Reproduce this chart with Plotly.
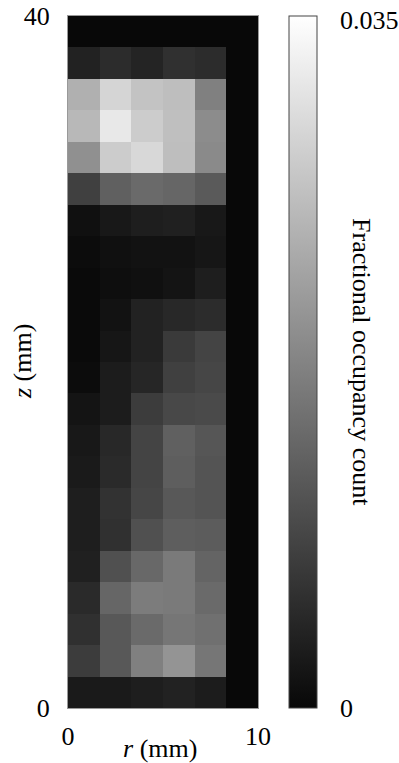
import plotly.graph_objects as go

# Occupancy grid: 6 radial bins (0-10 mm) x 22 axial bins (0-40 mm)
r_edges_mm = [0, 10]
z_edges_mm = [0, 40]
n_r, n_z = 6, 22

# Fractional occupancy per cell; rows listed from z = 0 (bottom) to z = 40 (top),
# columns from r = 0 outward
occupancy = [
    [0.0026, 0.0026, 0.0031, 0.0037, 0.0028, 0.0],
    [0.0074, 0.0113, 0.0170, 0.0198, 0.0156, 0.0],
    [0.0057, 0.0113, 0.0139, 0.0156, 0.0147, 0.0],
    [0.0048, 0.0133, 0.0164, 0.0162, 0.0139, 0.0],
    [0.0034, 0.0102, 0.0136, 0.0162, 0.0130, 0.0],
    [0.0031, 0.0057, 0.0102, 0.0122, 0.0119, 0.0],
    [0.0031, 0.0060, 0.0088, 0.0113, 0.0108, 0.0],
    [0.0026, 0.0048, 0.0085, 0.0122, 0.0108, 0.0],
    [0.0023, 0.0045, 0.0085, 0.0125, 0.0111, 0.0],
    [0.0017, 0.0028, 0.0074, 0.0091, 0.0094, 0.0],
    [0.0006, 0.0028, 0.0043, 0.0079, 0.0088, 0.0],
    [0.0003, 0.0020, 0.0037, 0.0071, 0.0085, 0.0],
    [0.0003, 0.0014, 0.0037, 0.0045, 0.0051, 0.0],
    [0.0003, 0.0009, 0.0011, 0.0017, 0.0031, 0.0],
    [0.0006, 0.0011, 0.0014, 0.0014, 0.0020, 0.0],
    [0.0011, 0.0023, 0.0031, 0.0034, 0.0023, 0.0],
    [0.0079, 0.0125, 0.0139, 0.0133, 0.0116, 0.0],
    [0.0193, 0.0278, 0.0295, 0.0258, 0.0184, 0.0],
    [0.0249, 0.0317, 0.0278, 0.0259, 0.0187, 0.0],
    [0.0238, 0.0290, 0.0265, 0.0258, 0.0170, 0.0],
    [0.0037, 0.0051, 0.0040, 0.0057, 0.0051, 0.0],
    [0.0, 0.0, 0.0, 0.0, 0.0, 0.0],
]

cbar_max = 0.035
cbar_ticks = [0.0, 0.005, 0.010, 0.015, 0.020, 0.025, 0.030, 0.035]
cbar_labels = {0.0: "0", 0.035: "0.035"}
x_ticks = [0, 10]
y_ticks = [0, 40]

FONT = "Liberation Serif, Times New Roman, serif"
FS = 26

dr = (r_edges_mm[1] - r_edges_mm[0]) / n_r
dz = (z_edges_mm[1] - z_edges_mm[0]) / n_z
r_centers = [r_edges_mm[0] + (i + 0.5) * dr for i in range(n_r)]
z_centers = [z_edges_mm[0] + (j + 0.5) * dz for j in range(n_z)]

# colorbar geometry (paper units of the 190 px wide plot area)
cb_x0 = 1.163
cb_w = 28 / 190.0
cb_x1 = cb_x0 + cb_w
tick_w = 5 / 190.0

fig = go.Figure(
    go.Heatmap(
        x=r_centers,
        y=z_centers,
        z=occupancy,
        zmin=0,
        zmax=cbar_max,
        colorscale=[[0, "#080808"], [1, "#ffffff"]],
        colorbar=dict(
            thickness=28,
            thicknessmode="pixels",
            len=1,
            lenmode="fraction",
            y=0.5,
            yanchor="middle",
            x=cb_x0,
            xanchor="left",
            xpad=0,
            ypad=0,
            outlinewidth=1,
            outlinecolor="#444444",
            tickvals=cbar_ticks,
            ticks="",
            showticklabels=False,
        ),
    )
)

# short inward ticks on both edges of the colorbar
shapes = []
for v in cbar_ticks[1:-1]:
    yf = v / cbar_max
    shapes.append(dict(type="line", xref="paper", yref="paper",
                       x0=cb_x0, x1=cb_x0 + tick_w, y0=yf, y1=yf,
                       line=dict(color="#222222", width=1)))
    shapes.append(dict(type="line", xref="paper", yref="paper",
                       x0=cb_x1 - tick_w, x1=cb_x1, y0=yf, y1=yf,
                       line=dict(color="#222222", width=1)))

annotations = [
    dict(text="<i>r</i> (mm)", xref="paper", yref="paper",
         x=0.484, y=-0.058, xanchor="center", yanchor="middle",
         showarrow=False, font=dict(family=FONT, size=FS)),
    dict(text="<i>z</i> (mm)", xref="paper", yref="paper",
         x=-0.242, y=0.5, xanchor="center", yanchor="middle",
         textangle=-90, showarrow=False, font=dict(family=FONT, size=FS)),
    dict(text="Fractional occupancy count", xref="paper", yref="paper",
         x=1.547, y=0.5, xanchor="center", yanchor="middle",
         textangle=90, showarrow=False, font=dict(family=FONT, size=FS)),
]
# colorbar end labels
for v, txt in cbar_labels.items():
    annotations.append(dict(
        text=txt, xref="paper", yref="paper",
        x=(338 - 68) / 190.0, y=v / cbar_max, xanchor="left", yanchor="middle",
        yshift=-4 if v > 0 else 0, showarrow=False,
        font=dict(family=FONT, size=FS)))

fig.update_layout(
    width=399,
    height=763,
    margin=dict(l=68, r=141, t=16, b=55, autoexpand=False),
    paper_bgcolor="white",
    plot_bgcolor="white",
    font=dict(family=FONT, size=FS, color="black"),
    shapes=shapes,
    annotations=annotations,
    xaxis=dict(
        range=r_edges_mm,
        tickvals=x_ticks,
        ticktext=[str(t) for t in x_ticks],
        ticks="outside",
        ticklen=5,
        tickcolor="rgba(0,0,0,0)",
        showgrid=False,
        zeroline=False,
        showline=True,
        linecolor="#999999",
        linewidth=1,
        mirror=True,
        automargin=False,
        tickfont=dict(family=FONT, size=FS),
    ),
    yaxis=dict(
        range=z_edges_mm,
        tickvals=y_ticks,
        ticktext=[str(t) for t in y_ticks],
        ticks="outside",
        ticklen=12,
        tickcolor="rgba(0,0,0,0)",
        showgrid=False,
        zeroline=False,
        showline=True,
        linecolor="#999999",
        linewidth=1,
        mirror=True,
        automargin=False,
        tickfont=dict(family=FONT, size=FS),
    ),
)

fig.write_html("out.html")
